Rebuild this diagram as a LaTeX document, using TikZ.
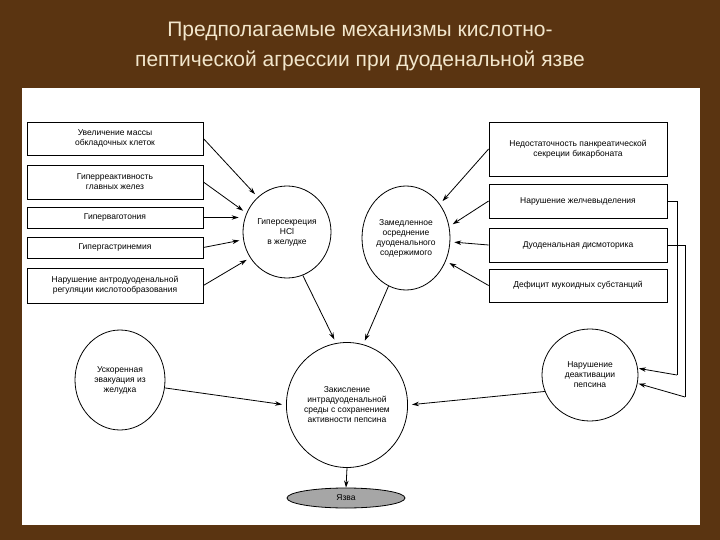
\documentclass[tikz,border=0pt]{standalone}
\usepackage{fontspec}
\setmainfont{Liberation Sans}
\usetikzlibrary{shapes.geometric,arrows.meta}
\definecolor{bg}{HTML}{5A3411}
\definecolor{ttl}{HTML}{F2E6CC}
\begin{document}
\begin{tikzpicture}[x=1pt,y=-1pt,
 bx/.style={draw,line width=0.8pt,inner sep=0pt,align=center,font=\fontsize{8.5}{10}\selectfont},
 el/.style={draw,ellipse,line width=0.8pt,inner sep=0pt,align=center,font=\fontsize{8.5}{10}\selectfont},
 ar/.style={-{Stealth[length=7pt,width=4.5pt]},line width=0.8pt,shorten >=4pt},
 ln/.style={line width=0.6pt}]
\fill[bg] (0,0) rectangle (720,540);
\fill[white] (22,88) rectangle (700,525);
\node[text=ttl,font=\fontsize{21}{30}\selectfont,align=center] (t) at (360,46) {Предполагаемые механизмы кислотно-\\пептической агрессии при дуоденальной язве};
% left boxes
\node[bx,minimum width=176,minimum height=33] (l1) at (115,138.5) {Увеличение массы\\обкладочных клеток};
\node[bx,minimum width=176,minimum height=34] (l2) at (115,182) {Гиперреактивность\\главных желез};
\node[bx,minimum width=176,minimum height=21] (l3) at (115,217.5) {Гиперваготония};
\node[bx,minimum width=176,minimum height=21] (l4) at (115,247.5) {Гипергастринемия};
\node[bx,minimum width=176,minimum height=35] (l5) at (115,285.5) {Нарушение антродуоденальной\\регуляции кислотообразования};
% right boxes
\node[bx,minimum width=178,minimum height=54] (r1) at (578,149) {Недостаточность панкреатической\\секреции бикарбоната};
\node[bx,minimum width=178,minimum height=34] (r2) at (578,201) {Нарушение желчевыделения};
\node[bx,minimum width=178,minimum height=34] (r3) at (578,245) {Дуоденальная дисмоторика};
\node[bx,minimum width=178,minimum height=33] (r4) at (578,285.5) {Дефицит мукоидных субстанций};
% ellipses
\node[el,minimum width=88,minimum height=92] (c1) at (287,232) {Гиперсекреция\\HCl\\в желудке};
\node[el,minimum width=88,minimum height=104] (c2) at (406,238) {Замедленное\\осреднение\\дуоденального\\содержимого};
\node[el,minimum width=90,minimum height=100] (c3) at (120,380) {Ускоренная\\эвакуация из\\желудка};
\node[el,minimum width=116,minimum height=125] (c4) at (347,405) {Закисление\\интрадуоденальной\\среды с сохранением\\активности пепсина};
\node[el,minimum width=96,minimum height=92] (c5) at (590,375) {Нарушение\\деактивации\\пепсина};
\node[el,fill=gray!70,minimum width=118,minimum height=20] (u) at (346,498) {Язва};
% arrows
\draw[ar] (l1.east) -- (c1.130);
\draw[ar] (l2.east) -- (c1.155);
\draw[ar] (l3.east) -- (c1.west |- l3.east);
\draw[ar] (l4.east) -- (c1.190);
\draw[ar] (l5.east) -- (c1.215);
\draw[ar] (r1.west) -- (c2.45);
\draw[ar] (r2.west) -- (c2.15);
\draw[ar] (r3.west) -- (c2.355);
\draw[ar] (r4.west) -- (c2.330);
\draw[ar] (c1.290) -- (c4.100);
\draw[ar] (c2.250) -- (c4.75);
\draw[ar] (c3.350) -- (c4.west);
\draw[ar] (c5.200) -- (c4.east);
\draw[ar,shorten >=0pt] (c4.south) -- (u.north);
\coordinate (k1) at (677,375);
\coordinate (k2) at (685,397);
\draw[ln] (r2.east) -| (k1);
\draw[ar,shorten >=1pt] (k1) -- (c5.8);
\draw[ln] (r3.east) -| (k2);
\draw[ar,shorten >=1pt] (k2) -- (c5.350);
\end{tikzpicture}
\end{document}
